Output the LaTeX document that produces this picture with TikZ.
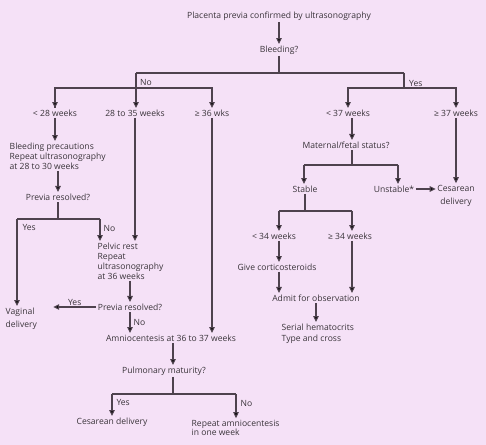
\documentclass[tikz,border=0pt]{standalone}
\usepackage{fontspec}
\setmainfont{Open Sans}
\usepackage{xcolor}
\usepackage{tikz}
\usetikzlibrary{arrows.meta, calc}

\definecolor{bgpink}{HTML}{F5E1F7}
\definecolor{linegray}{HTML}{4E424E}
\definecolor{textgray}{HTML}{3A343A}

\begin{document}
\begin{tikzpicture}[x=1bp, y=-1bp,
    txt/.style={inner sep=1.5bp, text=textgray, font=\fontsize{8.6}{10}\selectfont},
    blk/.style={txt, align=left, anchor=west},
    conn/.style={draw=linegray, line width=1.1bp},
    arr/.style={conn, -{Triangle[length=6bp, width=5.5bp, fill=black]}},
    tag/.style={txt, inner sep=1bp}]
    % --- CANVAS ---
    \fill[bgpink] (0,0) rectangle (486,445);
    \useasboundingbox (0,0) rectangle (486,445);

    % --- TOP ---
    \node[txt] (top) at (279,16) {Placenta previa confirmed by ultrasonography};
    \node[txt] (bleed) at (279,50) {Bleeding?};
    \node[txt] (w28) at (55,113) {< 28 weeks};
    \node[txt] (w2835) at (135,113) {28 to 35 weeks};
    \node[txt] (w36) at (212,113) {≥ 36 wks};
    \node[txt] (w37l) at (348,113) {< 37 weeks};
    \node[txt] (w37g) at (456,113) {≥ 37 weeks};

    % --- NO BRANCH ---
    \node[blk] (bprec) at (8,156) {Bleeding precautions\\Repeat ultrasonography\\at 28 to 30 weeks};
    \node[txt] (prev1) at (58,197) {Previa resolved?};
    \node[blk] (pelvic) at (96,261) {Pelvic rest\\Repeat\\ultrasonography\\at 36 weeks};
    \node[txt] (prev2) at (130,307) {Previa resolved?};
    \node[blk] (vag) at (4,318.5) {Vaginal\\[3bp]delivery};
    \node[txt] (amnio) at (171,338) {Amniocentesis at 36 to 37 weeks};
    \node[txt] (pulm) at (164,371) {Pulmonary maturity?};
    \node[txt] (ces1) at (112,422) {Cesarean delivery};
    \node[blk] (rep) at (190,427.5) {Repeat amniocentesis\\[-1bp]in one week};

    % --- YES BRANCH ---
    \node[txt] (mat) at (346,145) {Maternal/fetal status?};
    \node[txt] (stable) at (305,189) {Stable};
    \node[txt] (unst) at (394,189) {Unstable*};
    \node[txt, align=center] (ces2) at (456,195.5) {Cesarean\\[3bp]delivery};
    \node[txt] (w34l) at (274,236) {< 34 weeks};
    \node[txt] (w34g) at (350,236) {≥ 34 weeks};
    \node[txt] (cort) at (277,267) {Give corticosteroids};
    \node[txt] (admit) at (316,298) {Admit for observation};
    \node[blk] (serial) at (280,333.5) {Serial hematocrits\\[1bp]Type and cross};

    % --- junctions ---
    \coordinate (nosplit) at (136,73);
    \coordinate (yessplit) at (404,73);
    \coordinate (nojoin) at (136,88);
    \coordinate (yesjoin) at (404,88);
    \coordinate (pl) at (17,219);
    \coordinate (pr) at (100,219);
    \coordinate (pulmj) at (173,394);
    \coordinate (pyl) at (112,394);
    \coordinate (pnr) at (236,394);
    \coordinate (matj) at (352,165);
    \coordinate (ms) at (304,165);
    \coordinate (mu) at (398,165);
    \coordinate (sj) at (305,211);
    \coordinate (sl) at (279,211);
    \coordinate (sr) at (352,211);

    % --- CONNECTORS ---
    \draw[arr] (top.south) -- (bleed.north);
    \draw[conn] (bleed.south) -- (bleed.south |- nosplit);
    \draw[conn] (nosplit) -- (yessplit);
    \draw[arr] (nosplit) -- (nosplit |- w2835.north);
    \node[tag, anchor=west] at ($(nosplit)+(3,9)$) {No};
    \draw[conn] (nojoin) -| (w28.north);
    \draw[arr] (nojoin) -| (w36.north);
    \draw[arr] (w28.north |- nojoin) -- (w28.north);
    \draw[conn] (yessplit) -- (yesjoin);
    \node[tag, anchor=west] at ($(yessplit)+(4,10)$) {Yes};
    \draw[arr] (yesjoin) -| (w37l.north);
    \draw[arr] (yesjoin) -| (w37g.north);

    \draw[arr] (w28.south) -- (w28.south |- bprec.north);
    \draw[arr] (prev1 |- bprec.south) -- (prev1.north);
    \draw[conn] (prev1.south) -- (prev1.south |- pl);
    \draw[conn] (pl) -- (pr);
    \draw[arr] (pl) -- (pl |- vag.north) node[tag, pos=0.1, anchor=west, xshift=4] {Yes};
    \draw[arr] (pr) -- (pr |- pelvic.north) node[tag, pos=0.45, anchor=west, xshift=2] {No};
    \draw[arr] (w2835.south) -- (w2835.south |- pelvic.north);
    \draw[arr] (prev2 |- pelvic.south) -- (prev2.north);
    \draw[arr] (prev2.west) -- ++(-43,0) node[tag, midway, above] {Yes};
    \draw[arr] (prev2.south) -- (prev2.south |- amnio.north) node[tag, midway, right, xshift=2] {No};
    \draw[arr] (w36.south) -- (w36.south |- amnio.north);
    \draw[arr] (amnio.south -| pulmj) -- (pulm.north -| pulmj);
    \draw[conn] (pulm.south -| pulmj) -- (pulmj);
    \draw[conn] (pyl) -- (pnr);
    \draw[arr] (pyl) -- (ces1.north) node[tag, pos=0.4, anchor=west, xshift=3] {Yes};
    \draw[arr] (pnr) -- (pnr |- rep.north) node[tag, pos=0.4, anchor=west, xshift=3] {No};

    \draw[arr] (w37l.south -| matj) -- (mat.north -| matj);
    \draw[conn] (mat.south -| matj) -- (matj);
    \draw[conn] (ms) -- (mu);
    \draw[arr] (ms) -- (stable.north -| ms);
    \draw[arr] (mu) -- (unst.north -| mu);
    \draw[arr] (w37g.south) -- (w37g.south |- ces2.north);
    \draw[arr] (unst.east) -- (ces2.west |- unst);
    \draw[conn] (stable.south) -- (sj);
    \draw[conn] (sl) -- (sr);
    \draw[arr] (sl) -- (sl |- w34l.north);
    \draw[arr] (sr) -- (sr |- w34g.north);
    \draw[arr] (w34l.south -| sl) -- (cort.north -| sl);
    \draw[arr] (cort.south -| sl) -- (admit.north -| sl);
    \draw[arr] (w34g.south -| sr) -- (admit.north -| sr);
    \draw[arr] (admit.south) -- (admit.south |- serial.north);
\end{tikzpicture}
\end{document}
